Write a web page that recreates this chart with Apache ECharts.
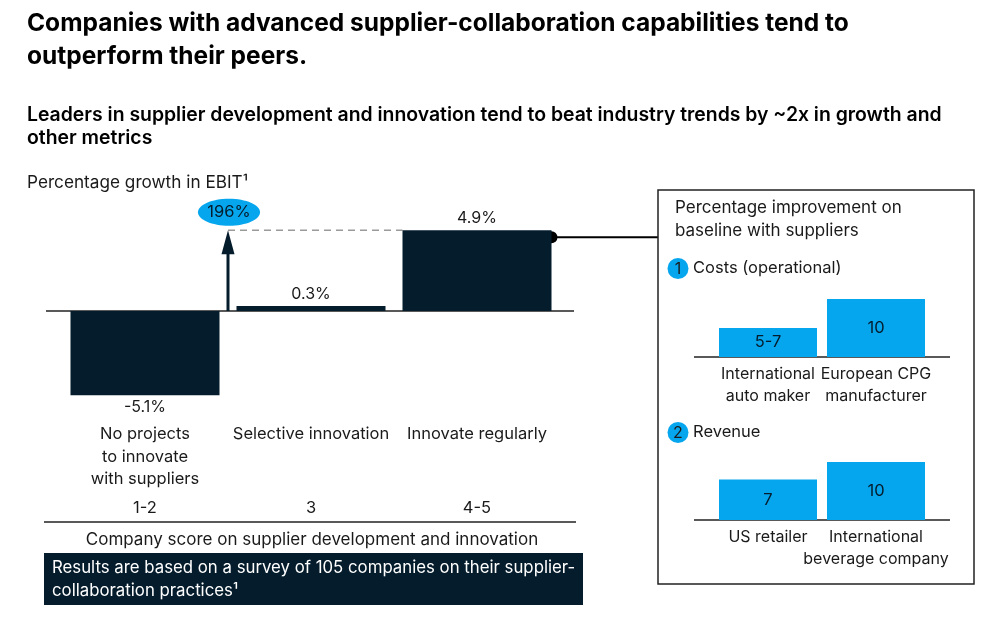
<!DOCTYPE html>
<html><head><meta charset="utf-8">
<script src="https://cdn.jsdelivr.net/npm/echarts@6/dist/echarts.min.js"></script>
<style>html,body{margin:0;padding:0;background:#fff}#c{width:993px;height:619px}</style>
</head><body><div id="c"></div>
<script>
const categories = ['No projects\nto innovate\nwith suppliers', 'Selective innovation', 'Innovate regularly'];
const scores = ['1-2', '3', '4-5'];
const ebitGrowth = [-5.1, 0.3, 4.9];
const ebitLabels = ['-5.1%', '0.3%', '4.9%'];
const outlierLabel = '196%';
const costCategories = ['International\nauto maker', 'European CPG\nmanufacturer'];
const costValues = [5, 10];
const costLabels = ['5-7', '10'];
const revenueCategories = ['US retailer', 'International\nbeverage company'];
const revenueValues = [7, 10];
const revenueLabels = ['7', '10'];

const FONT = 'Inter, "Liberation Sans", Arial, sans-serif';
const NAVY = '#051c2c';
const CYAN = '#06a6ee';
const TXT = '#1a1a1a';
const FS = 16.5;

const chart = echarts.init(document.getElementById('c'), null, {renderer: 'canvas'});

const smallXAxis = (grid, data) => ({
  gridIndex: grid, type: 'category', data: data,
  axisLine: {show: false}, axisTick: {show: false},
  axisLabel: {interval: 0, fontFamily: FONT, fontSize: 16, color: TXT, lineHeight: 22, margin: 6}
});

chart.setOption({
  animation: false,
  textStyle: {fontFamily: FONT},
  grid: [
    {left: 62, top: 212, width: 498, height: 198},
    {left: 714, top: 299, width: 216, height: 58},
    {left: 714, top: 462, width: 216, height: 58}
  ],
  xAxis: [
    {gridIndex: 0, type: 'category', data: categories,
     axisLine: {show: false}, axisTick: {show: false},
     axisLabel: {interval: 0, fontFamily: FONT, fontSize: FS, color: TXT, lineHeight: 22.5, margin: 13}},
    {gridIndex: 0, type: 'category', data: scores, position: 'bottom', offset: 81,
     axisLine: {show: false}, axisTick: {show: false},
     axisLabel: {interval: 0, fontFamily: FONT, fontSize: FS, color: TXT, lineHeight: 18, margin: 8}},
    smallXAxis(1, costCategories),
    smallXAxis(2, revenueCategories)
  ],
  yAxis: [
    {gridIndex: 0, type: 'value', min: -6, max: 6, show: false},
    {gridIndex: 1, type: 'value', min: 0, max: 10, show: false},
    {gridIndex: 2, type: 'value', min: 0, max: 10, show: false}
  ],
  series: [
    {type: 'bar', xAxisIndex: 0, yAxisIndex: 0, barWidth: 149,
     itemStyle: {color: NAVY},
     data: ebitGrowth.map((v, i) => ({value: v, label: {position: v < 0 ? 'bottom' : 'top'}})),
     label: {show: true, distance: 4, fontFamily: FONT, fontSize: 16, color: TXT,
             formatter: p => ebitLabels[p.dataIndex]}},
    {type: 'bar', xAxisIndex: 2, yAxisIndex: 1, barWidth: 98,
     itemStyle: {color: CYAN}, data: costValues,
     label: {show: true, position: 'inside', fontFamily: FONT, fontSize: FS, color: NAVY,
             formatter: p => costLabels[p.dataIndex]}},
    {type: 'bar', xAxisIndex: 3, yAxisIndex: 2, barWidth: 98,
     itemStyle: {color: CYAN}, data: revenueValues,
     label: {show: true, position: 'inside', fontFamily: FONT, fontSize: FS, color: NAVY,
             formatter: p => revenueLabels[p.dataIndex]}}
  ]
});

const y0 = chart.convertToPixel({yAxisIndex: 0}, 0);
const yTop = chart.convertToPixel({yAxisIndex: 0}, ebitGrowth[2]);
const xc0 = chart.convertToPixel({xAxisIndex: 0}, 0);
const xc1 = chart.convertToPixel({xAxisIndex: 0}, 1);
const xc2 = chart.convertToPixel({xAxisIndex: 0}, 2);
const arrowX = (xc0 + xc1) / 2;
const bar3Left = xc2 - 149 / 2;
const bar3Right = xc2 + 149 / 2;
const c0 = chart.convertToPixel({yAxisIndex: 1}, 0);
const r0 = chart.convertToPixel({yAxisIndex: 2}, 0);

const txt = (x, y, text, style) => ({
  type: 'text', x: x, y: y, silent: true,
  style: Object.assign({text: text, fill: TXT, font: FS + 'px ' + FONT, textVerticalAlign: 'middle'}, style || {})
});

chart.setOption({
  graphic: [
    {type: 'text', x: 27, y: 7, style: {text: 'Companies with advanced supplier-collaboration capabilities tend to\noutperform their peers.', fill: '#000', font: 'bold 24.5px ' + FONT, lineHeight: 33}},
    {type: 'text', x: 27, y: 103.5, style: {text: 'Leaders in supplier development and innovation tend to beat industry trends by ~2x in growth and\nother metrics', fill: '#000', font: '600 19.4px ' + FONT, lineHeight: 23}},
    txt(27, 183, 'Percentage growth in EBIT\u00b9', {font: '17.2px ' + FONT}),
    {type: 'line', shape: {x1: 46, y1: y0, x2: 574, y2: y0}, style: {stroke: '#222', lineWidth: 1.3}},
    {type: 'line', shape: {x1: arrowX, y1: yTop, x2: bar3Left, y2: yTop}, style: {stroke: '#9a9a9a', lineWidth: 1.5, lineDash: [7, 5]}},
    {type: 'line', shape: {x1: arrowX, y1: y0, x2: arrowX, y2: yTop + 20}, style: {stroke: NAVY, lineWidth: 3}},
    {type: 'polygon', shape: {points: [[arrowX - 6.5, yTop + 24], [arrowX + 6.5, yTop + 24], [arrowX, yTop]]}, style: {fill: NAVY}},
    {type: 'ellipse', shape: {cx: arrowX + 1, cy: yTop - 18, rx: 31, ry: 13.5}, style: {fill: CYAN}},
    txt(arrowX + 1, yTop - 18, outlierLabel, {font: '16.5px ' + FONT, textAlign: 'center', fill: NAVY}),
    {type: 'line', shape: {x1: bar3Right, y1: yTop + 7, x2: 658, y2: yTop + 7}, style: {stroke: '#000', lineWidth: 2}},
    {type: 'circle', shape: {cx: bar3Right, cy: yTop + 7, r: 6}, style: {fill: '#000'}},
    {type: 'rect', shape: {x: 658, y: 190, width: 316, height: 394}, style: {fill: 'none', stroke: '#222', lineWidth: 1.5}},
    {type: 'text', x: 675, y: 196.5, style: {text: 'Percentage improvement on\nbaseline with suppliers', fill: TXT, font: '17px ' + FONT, lineHeight: 23}},
    {type: 'circle', shape: {cx: 678, cy: 268.5, r: 10.5}, style: {fill: CYAN}},
    txt(678, 269, '1', {textAlign: 'center', font: '16px ' + FONT}),
    txt(693, 268.5, 'Costs (operational)'),
    {type: 'circle', shape: {cx: 678, cy: 432.5, r: 10.5}, style: {fill: CYAN}},
    txt(678, 433, '2', {textAlign: 'center', font: '16px ' + FONT}),
    txt(693, 432.5, 'Revenue'),
    {type: 'line', shape: {x1: 694, y1: c0, x2: 950, y2: c0}, style: {stroke: '#222', lineWidth: 1.3}},
    {type: 'line', shape: {x1: 694, y1: r0, x2: 950, y2: r0}, style: {stroke: '#222', lineWidth: 1.3}},
    {type: 'line', shape: {x1: 44, y1: 522, x2: 576, y2: 522}, style: {stroke: '#222', lineWidth: 1.3}},
    txt(312, 540, 'Company score on supplier development and innovation', {textAlign: 'center', font: '17px ' + FONT}),
    {type: 'rect', shape: {x: 44, y: 553, width: 539, height: 52}, style: {fill: NAVY}},
    {type: 'text', x: 52, y: 556.5, style: {text: 'Results are based on a survey of 105 companies on their supplier-\ncollaboration practices\u00b9', fill: '#fff', font: '16.8px ' + FONT, lineHeight: 23}}
  ]
});
</script>
</body></html>
